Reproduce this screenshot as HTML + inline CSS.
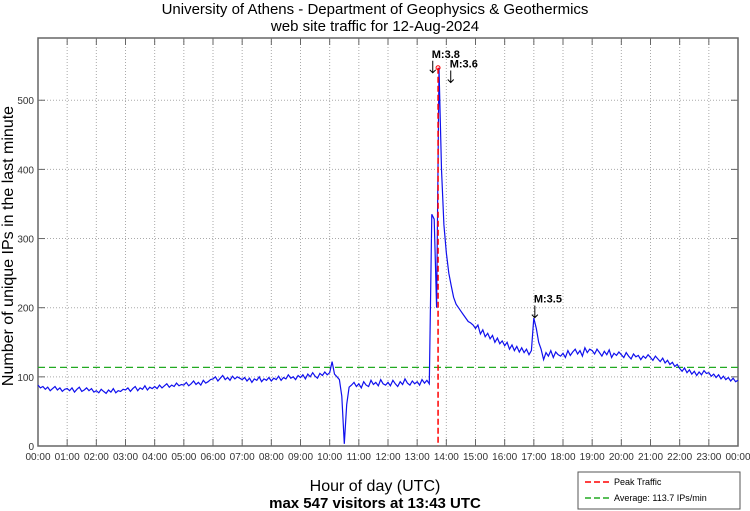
<!DOCTYPE html>
<html><head><meta charset="utf-8"><style>
body{margin:0;background:#fff;}
svg{display:block;font-family:"Liberation Sans",sans-serif;}
</style></head><body>
<svg id="chart" width="750" height="511" viewBox="0 0 750 511">
<text x="375" y="14" text-anchor="middle" font-size="15">University of Athens - Department of Geophysics &amp; Geothermics</text>
<text x="375" y="31" text-anchor="middle" font-size="15">web site traffic for 12-Aug-2024</text>
<text transform="translate(13,246) rotate(-90)" text-anchor="middle" font-size="16">Number of unique IPs in the last minute</text>
<text x="375" y="491" text-anchor="middle" font-size="16">Hour of day (UTC)</text>
<text x="375" y="508" text-anchor="middle" font-size="15" font-weight="bold">max 547 visitors at 13:43 UTC</text>
<g id="grid"></g><g id="series"></g><g id="ann"></g>
<g>
<rect x="578" y="472" width="162" height="37" fill="#fff" stroke="#555"/>
<line x1="585" y1="482" x2="610" y2="482" stroke="#ff0000" stroke-width="1.5" stroke-dasharray="6,3"/>
<text x="614" y="485" font-size="9">Peak Traffic</text>
<line x1="585" y1="498" x2="610" y2="498" stroke="#22aa22" stroke-width="1.5" stroke-dasharray="6,3"/>
<text x="614" y="501" font-size="9">Average: 113.7 IPs/min</text>
</g>
</svg>
<script>
const hourLabels=["00:00","01:00","02:00","03:00","04:00","05:00","06:00","07:00","08:00","09:00","10:00","11:00","12:00","13:00","14:00","15:00","16:00","17:00","18:00","19:00","20:00","21:00","22:00","23:00","00:00"];
const yTicks=[0,100,200,300,400,500];
const stepMinutes=5;
const visitors=[
88,84,86,82,85,80,83,86,81,84,79,82,
83,80,84,78,82,85,79,81,84,80,83,78,
80,77,82,79,76,81,78,83,77,80,79,82,
81,84,79,83,86,80,84,82,87,81,85,83,
86,83,88,84,87,90,85,88,86,91,87,89,
88,92,87,90,94,89,92,88,95,91,93,96,
97,100,94,98,102,96,99,95,101,97,100,98,
96,99,94,98,92,97,95,100,93,97,95,99,
94,98,96,101,95,99,97,103,98,100,96,102,
99,103,97,104,100,106,101,98,105,102,107,103,
106,122,104,100,96,72,3,60,85,88,92,86,
90,84,93,88,86,95,89,92,87,96,90,88,
92,87,95,90,86,93,89,97,91,88,94,90,
93,88,96,91,95,90,335,328,200,547,400,320,
280,250,232,215,205,200,195,190,185,180,178,175,
170,175,162,168,158,163,155,160,150,156,148,152,
145,150,140,146,138,144,136,142,135,140,132,138,
185,170,150,140,125,135,130,138,128,136,132,130,
134,128,138,131,136,140,133,138,130,142,135,140,
138,133,140,135,130,137,132,139,128,134,131,136,
132,128,135,130,126,133,129,131,125,130,127,132,
128,124,130,126,122,127,120,124,118,121,115,118,
112,108,113,106,110,104,108,102,107,103,109,105,
106,101,104,99,103,97,101,96,99,94,98,93,95];
const peakMinute=823, peakValue=547, averageValue=113.7;
const quakeLabels=["M:3.8","M:3.6","M:3.5"];
const quakeMinutes=[810,847,1020];
const quakeValues=[544,530,190];

const L=38,R=738,T=38,B=446,YMAX=590;
const xs=m=>L+(m/1440)*(R-L);
const ys=v=>B-(v/YMAX)*(B-T);
const NS="http://www.w3.org/2000/svg";
function mk(tag,attrs,parent){const e=document.createElementNS(NS,tag);for(const k in attrs)e.setAttribute(k,attrs[k]);parent.appendChild(e);return e;}
const grid=document.getElementById('grid'),series=document.getElementById('series'),ann=document.getElementById('ann');
mk('rect',{x:L,y:T,width:R-L,height:B-T,fill:'#fff',stroke:'#666','stroke-width':1.5},grid);
hourLabels.forEach((lab,i)=>{
  const x=xs(i*60);
  if(i>0&&i<24){const g=mk('line',{x1:x,y1:T,x2:x,y2:B,stroke:'#aaa','stroke-dasharray':'1,2'},grid);
  }
  mk('line',{x1:x,y1:B,x2:x,y2:B-7,stroke:'#666'},grid);
  mk('line',{x1:x,y1:T,x2:x,y2:T+7,stroke:'#666'},grid);
  const t=mk('text',{x:x,y:B+14,'text-anchor':'middle','font-size':10,fill:'#333'},grid);t.textContent=lab;
  
});
yTicks.forEach(v=>{
  const y=ys(v);
  if(v>0){const g=mk('line',{x1:L,y1:y,x2:R,y2:y,stroke:'#aaa','stroke-dasharray':'1,2'},grid);
  }
  mk('line',{x1:L,y1:y,x2:L+7,y2:y,stroke:'#666'},grid);
  mk('line',{x1:R,y1:y,x2:R-7,y2:y,stroke:'#666'},grid);
  const t=mk('text',{x:L-4,y:y+4,'text-anchor':'end','font-size':10,fill:'#333'},grid);t.textContent=v;
  
});
const avg=mk('line',{x1:L,y1:ys(averageValue),x2:R,y2:ys(averageValue),stroke:'#22aa22','stroke-width':1.3,'stroke-dasharray':'7,4'},series);

const pts=visitors.map((v,i)=>xs(i*stepMinutes).toFixed(1)+','+ys(v).toFixed(1)).join(' ');
const pl=mk('polyline',{points:pts,fill:'none',stroke:'#1010ee','stroke-width':1.2},series);

const pk=mk('line',{x1:xs(peakMinute),y1:ys(peakValue),x2:xs(peakMinute),y2:B,stroke:'#ff0000','stroke-width':1.5,'stroke-dasharray':'6,3'},series);

const pc=mk('circle',{cx:xs(peakMinute),cy:ys(peakValue),r:2,fill:'none',stroke:'#ff0000'},series);

quakeLabels.forEach((lab,i)=>{
  const x=xs(quakeMinutes[i]),y=ys(quakeValues[i]);
  const t=mk('text',{x:x,y:y-12,'font-size':11,'font-weight':'bold'},ann);t.textContent=lab;
  
  const a=mk('path',{d:`M${x+1},${y-9}V${y+3}M${x-2},${y}L${x+1},${y+3}L${x+4},${y}`,stroke:'#000',fill:'none','stroke-width':1},ann);
  
});
</script>
</body></html>
